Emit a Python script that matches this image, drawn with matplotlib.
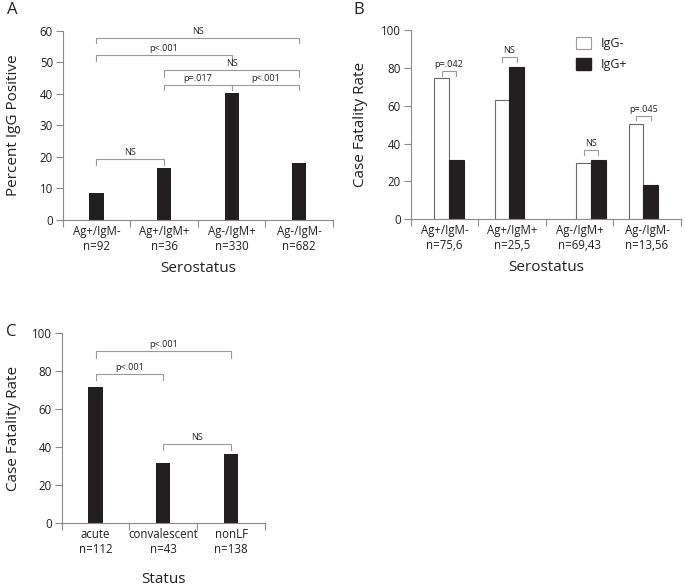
import matplotlib
matplotlib.use("Agg")
import matplotlib.pyplot as plt
from matplotlib.patches import Patch

plt.rcParams['font.family'] = ['Open Sans', 'DejaVu Sans']

# ---------------- data ----------------
a_categories = ["Ag+/IgM-\nn=92", "Ag+/IgM+\nn=36", "Ag-/IgM+\nn=330", "Ag-/IgM-\nn=682"]
a_values = [8.7, 16.5, 40.1, 18.0]
a_brackets = [  # (from, to, line y, leg end y, label)
    (0, 3, 57.8, 56.0, "NS"),
    (0, 2, 52.4, 50.5, "p<.001"),
    (1, 3, 47.4, 45.4, "NS"),
    (1, 2, 42.7, 41.2, "p=.017"),
    (2, 3, 42.7, 41.2, "p<.001"),
    (0, 1, 19.2, 17.4, "NS"),
]

b_categories = ["Ag+/IgM-\nn=75,6", "Ag+/IgM+\nn=25,5", "Ag-/IgM+\nn=69,43", "Ag-/IgM-\nn=13,56"]
b_igg_neg = [74.8, 63.0, 29.6, 50.2]
b_igg_pos = [31.4, 80.6, 31.5, 18.0]
b_series = ["IgG-", "IgG+"]
b_brackets = [  # (category, line y, leg end y, label)
    (0, 78.3, 75.9, "p=.042"),
    (1, 85.7, 83.0, "NS"),
    (2, 36.6, 34.0, "NS"),
    (3, 54.6, 52.4, "p=.045"),
]

c_categories = ["acute\nn=112", "convalescent\nn=43", "nonLF\nn=138"]
c_values = [71.9, 31.7, 36.3]
c_brackets = [
    (0, 2, 90.5, 86.8, "p<.001"),
    (0, 1, 78.6, 75.4, "p<.001"),
    (1, 2, 41.8, 38.6, "NS"),
]

# ---------------- style ----------------
BAR = "#231f20"
SPINE = "#8a8a8a"
BRK = "#9a9a9a"
TXT = "#231f20"
TICK_FS = 8.3
LABEL_FS = 11
BRK_FS = 6.6

W, H = 685, 587
fig = plt.figure(figsize=(W / 100, H / 100), dpi=100)


def px_axes(l, t, r, b):
    return fig.add_axes([l / W, 1 - b / H, (r - l) / W, (b - t) / H])


def style(ax, cats, ymax, ystep):
    n = len(cats)
    ax.set_xlim(-0.5, n - 0.5)
    ax.set_ylim(0, ymax)
    for s in ("top", "right"):
        ax.spines[s].set_visible(False)
    for s in ("left", "bottom"):
        ax.spines[s].set_color(SPINE)
        ax.spines[s].set_linewidth(0.8)
    ax.set_xticks([i - 0.5 for i in range(n + 1)])
    ax.set_xticklabels([])
    ax.set_xticks(range(n), minor=True)
    ax.set_xticklabels(cats, minor=True, fontsize=TICK_FS, color=TXT, linespacing=1.2)
    ax.tick_params(axis="x", which="major", direction="out", length=5, width=0.8, color=SPINE)
    ax.tick_params(axis="x", which="minor", length=0, pad=3.5)
    ax.set_yticks(range(0, ymax + 1, ystep))
    ax.tick_params(axis="y", direction="out", length=5, width=0.8, color=SPINE,
                   labelsize=TICK_FS, labelcolor=TXT, pad=2)


def bracket(ax, x1, x2, y, yleg, label):
    ax.plot([x1, x1, x2, x2], [yleg, y, y, yleg], color=BRK, lw=0.8, solid_joinstyle="miter")
    ax.annotate(label, xy=((x1 + x2) / 2, y), xytext=(0, 1.5), textcoords="offset points",
                ha="center", va="bottom", fontsize=BRK_FS, color=TXT)


# ---------------- panel A ----------------
axA = px_axes(62.7, 30.7, 333, 220)
style(axA, a_categories, 60, 10)
axA.bar(range(len(a_values)), a_values, width=0.21, color=BAR)
for i, j, y, yl, lab in a_brackets:
    bracket(axA, i, j, y, yl, lab)
axA.set_ylabel("Percent IgG Positive", fontsize=LABEL_FS, color=TXT)
axA.yaxis.set_label_coords(-0.155, 0.5)
axA.set_xlabel("Serostatus", fontsize=LABEL_FS, color=TXT)
axA.xaxis.set_label_coords(0.5, -0.215)

# ---------------- panel B ----------------
axB = px_axes(410.7, 30, 680.7, 219.3)
style(axB, b_categories, 100, 20)
bw = 0.217
group_pos = [0.068, 0.962, 2.172, 2.947]
neg_x = [p - bw / 2 for p in group_pos]
pos_x = [p + bw / 2 for p in group_pos]
axB.bar(neg_x, b_igg_neg, width=bw, color="white", edgecolor="#6a6a6a", linewidth=0.8,
        label=b_series[0])
axB.bar(pos_x, b_igg_pos, width=bw, color=BAR, edgecolor=BAR, linewidth=0.8,
        label=b_series[1])
for c, y, yl, lab in b_brackets:
    bracket(axB, neg_x[c], pos_x[c], y, yl, lab)
axB.set_ylabel("Case Fatality Rate", fontsize=LABEL_FS, color=TXT)
axB.yaxis.set_label_coords(-0.16, 0.5)
axB.set_xlabel("Serostatus", fontsize=LABEL_FS, color=TXT)
axB.xaxis.set_label_coords(0.5, -0.215)
handles = [Patch(facecolor="white", edgecolor="#9a9a9a", linewidth=0.8),
           Patch(facecolor=BAR, edgecolor=BAR)]
axB.legend(handles, b_series, loc="upper left", bbox_to_anchor=(576 / W, 1 - 37 / H),
           bbox_transform=fig.transFigure, frameon=False, fontsize=9, borderpad=0,
           borderaxespad=0, handlelength=1.2, handleheight=1.15, labelspacing=0.6,
           handletextpad=0.75, labelcolor=TXT)

# ---------------- panel C ----------------
axC = px_axes(61.7, 333.3, 265, 523.3)
style(axC, c_categories, 100, 20)
axC.bar(range(len(c_values)), c_values, width=0.21, color=BAR)
for i, j, y, yl, lab in c_brackets:
    bracket(axC, i, j, y, yl, lab)
axC.set_ylabel("Case Fatality Rate", fontsize=LABEL_FS, color=TXT)
axC.yaxis.set_label_coords(-0.2, 0.5)
axC.set_xlabel("Status", fontsize=LABEL_FS, color=TXT)
axC.xaxis.set_label_coords(0.5, -0.255)

# ---------------- panel letters ----------------
fig.text(12.7 / W, 1 - 10 / H, "A", fontsize=12, color=TXT, ha="center", va="center")
fig.text(359 / W, 1 - 10 / H, "B", fontsize=12, color=TXT, ha="center", va="center")
fig.text(11.7 / W, 1 - 331.7 / H, "C", fontsize=12, color=TXT, ha="center", va="center")

fig.savefig("out.png", dpi=100, facecolor="white")
